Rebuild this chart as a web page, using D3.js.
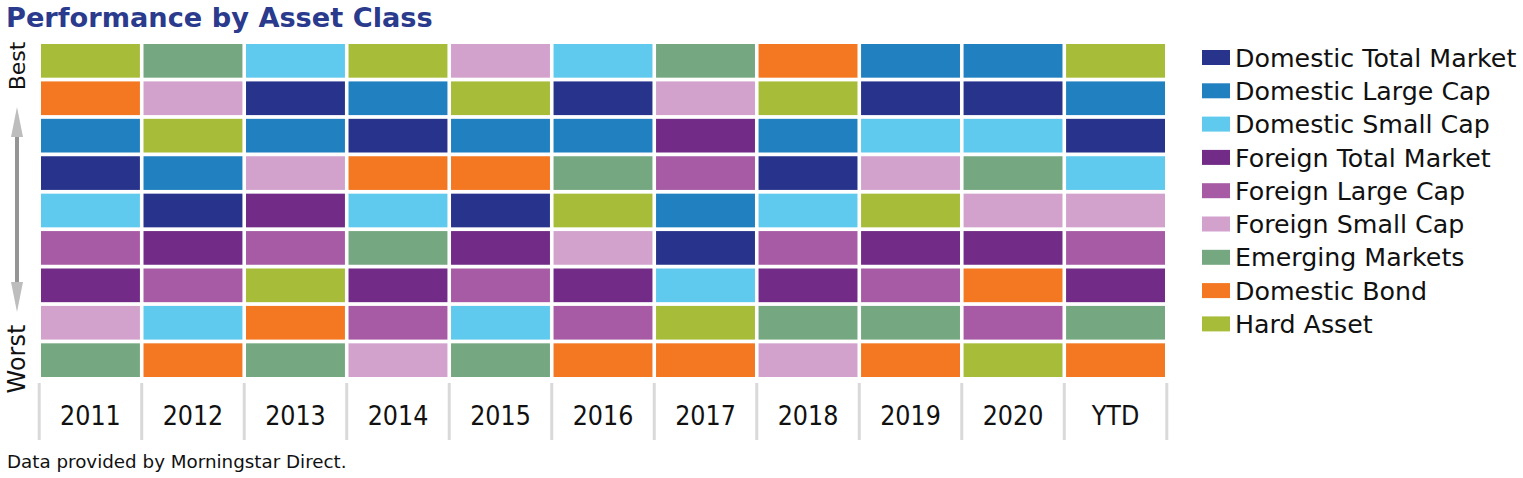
<!DOCTYPE html>
<html>
<head>
<meta charset="utf-8">
<script src="https://cdn.jsdelivr.net/npm/d3@7"></script>
<style>
  html, body { margin: 0; padding: 0; background: #fff; }
  svg { display: block; font-family: "DejaVu Sans", Verdana, sans-serif; }
</style>
</head>
<body>
<svg id="chart" width="1523" height="478"></svg>
<script>
// ---- Data ----
const years = ["2011", "2012", "2013", "2014", "2015", "2016", "2017", "2018", "2019", "2020", "YTD"];
const assetClasses = [
  "Domestic Total Market", "Domestic Large Cap", "Domestic Small Cap",
  "Foreign Total Market", "Foreign Large Cap", "Foreign Small Cap",
  "Emerging Markets", "Domestic Bond", "Hard Asset"
];
const assetColors = ["#28348b", "#2180c0", "#5fcaed", "#722b87", "#a75ba5", "#d2a2cd", "#75a880", "#f47721", "#a7bd3a"];
const rankLabels = ["Best", "Worst"];
// Each year's classes from best (rank 1) to worst (rank 9)
const rank2011 = ["Hard Asset", "Domestic Bond", "Domestic Large Cap", "Domestic Total Market", "Domestic Small Cap", "Foreign Large Cap", "Foreign Total Market", "Foreign Small Cap", "Emerging Markets"];
const rank2012 = ["Emerging Markets", "Foreign Small Cap", "Hard Asset", "Domestic Large Cap", "Domestic Total Market", "Foreign Total Market", "Foreign Large Cap", "Domestic Small Cap", "Domestic Bond"];
const rank2013 = ["Domestic Small Cap", "Domestic Total Market", "Domestic Large Cap", "Foreign Small Cap", "Foreign Total Market", "Foreign Large Cap", "Hard Asset", "Domestic Bond", "Emerging Markets"];
const rank2014 = ["Hard Asset", "Domestic Large Cap", "Domestic Total Market", "Domestic Bond", "Domestic Small Cap", "Emerging Markets", "Foreign Total Market", "Foreign Large Cap", "Foreign Small Cap"];
const rank2015 = ["Foreign Small Cap", "Hard Asset", "Domestic Large Cap", "Domestic Bond", "Domestic Total Market", "Foreign Total Market", "Foreign Large Cap", "Domestic Small Cap", "Emerging Markets"];
const rank2016 = ["Domestic Small Cap", "Domestic Total Market", "Domestic Large Cap", "Emerging Markets", "Hard Asset", "Foreign Small Cap", "Foreign Total Market", "Foreign Large Cap", "Domestic Bond"];
const rank2017 = ["Emerging Markets", "Foreign Small Cap", "Foreign Total Market", "Foreign Large Cap", "Domestic Large Cap", "Domestic Total Market", "Domestic Small Cap", "Hard Asset", "Domestic Bond"];
const rank2018 = ["Domestic Bond", "Hard Asset", "Domestic Large Cap", "Domestic Total Market", "Domestic Small Cap", "Foreign Large Cap", "Foreign Total Market", "Emerging Markets", "Foreign Small Cap"];
const rank2019 = ["Domestic Large Cap", "Domestic Total Market", "Domestic Small Cap", "Foreign Small Cap", "Hard Asset", "Foreign Total Market", "Foreign Large Cap", "Emerging Markets", "Domestic Bond"];
const rank2020 = ["Domestic Large Cap", "Domestic Total Market", "Domestic Small Cap", "Emerging Markets", "Foreign Small Cap", "Foreign Total Market", "Domestic Bond", "Foreign Large Cap", "Hard Asset"];
const rankYTD  = ["Hard Asset", "Domestic Large Cap", "Domestic Total Market", "Domestic Small Cap", "Foreign Small Cap", "Foreign Large Cap", "Foreign Total Market", "Emerging Markets", "Domestic Bond"];
const rankings = [rank2011, rank2012, rank2013, rank2014, rank2015, rank2016, rank2017, rank2018, rank2019, rank2020, rankYTD];

// ---- Build ----
const svg = d3.select("#chart");
const ranks = d3.range(1, assetClasses.length + 1);

const x = d3.scaleBand().domain(years).range([41, 1165]).paddingInner(0.035).paddingOuter(0);
const y = d3.scaleBand().domain(ranks).range([44, 377]).paddingInner(0.1).paddingOuter(0);
const color = d3.scaleOrdinal().domain(assetClasses).range(assetColors);

// Title
svg.append("text")
  .attr("x", 6).attr("y", 27)
  .attr("font-size", 27.2).attr("font-weight", "bold")
  .attr("fill", "#2a3a8c")
  .text("Performance by Asset Class");

// Cells
const cells = [];
years.forEach((yr, i) => rankings[i].forEach((a, r) => cells.push({ year: yr, rank: r + 1, asset: a })));
svg.append("g").selectAll("rect").data(cells).join("rect")
  .attr("x", d => x(d.year))
  .attr("y", d => y(d.rank))
  .attr("width", x.bandwidth())
  .attr("height", y.bandwidth())
  .attr("fill", d => color(d.asset));

// X axis: separators and labels
const gap = x.step() - x.bandwidth();
const sepX = years.map(yr => x(yr) - gap / 2).concat([x(years[years.length - 1]) + x.bandwidth() + gap / 2]);
const axisG = svg.append("g");
axisG.selectAll("line").data(sepX).join("line")
  .attr("x1", d => d).attr("x2", d => d)
  .attr("y1", 383).attr("y2", 440)
  .attr("stroke", "#d9d9d9").attr("stroke-width", 3);
axisG.selectAll("text").data(years).join("text")
  .attr("x", d => x(d) + x.bandwidth() / 2)
  .attr("y", 425)
  .attr("text-anchor", "middle")
  .attr("font-family", "'DejaVu Sans Condensed', 'DejaVu Sans', sans-serif")
  .attr("font-stretch", "condensed")
  .attr("font-size", 26.5)
  .attr("fill", "#111")
  .text(d => d);

// Y axis labels (Best / Worst) and arrow
svg.append("text")
  .attr("transform", `translate(25, 66) rotate(-90)`)
  .attr("text-anchor", "middle")
  .attr("font-size", 22).attr("fill", "#111")
  .text(rankLabels[0]);
svg.append("text")
  .attr("transform", `translate(25, 359) rotate(-90)`)
  .attr("text-anchor", "middle")
  .attr("font-size", 24).attr("fill", "#111")
  .text(rankLabels[1]);

const ax = 17, aTop = 107, aBot = 312, headH = 30, headW = 6;
svg.append("line")
  .attr("x1", ax).attr("x2", ax)
  .attr("y1", aTop + headH - 2).attr("y2", aBot - headH + 2)
  .attr("stroke", "#959595").attr("stroke-width", 4);
svg.append("path")
  .attr("d", `M${ax},${aTop} L${ax + headW},${aTop + headH} L${ax - headW},${aTop + headH} Z`)
  .attr("fill", "#bdbdbd");
svg.append("path")
  .attr("d", `M${ax},${aBot} L${ax + headW},${aBot - headH} L${ax - headW},${aBot - headH} Z`)
  .attr("fill", "#bdbdbd");

// Legend
const lg = svg.append("g").attr("transform", "translate(1202, 50)");
const li = lg.selectAll("g").data(assetClasses).join("g")
  .attr("transform", (d, i) => `translate(0, ${i * 33.3})`);
li.append("rect").attr("width", 28).attr("height", 15).attr("fill", d => color(d));
li.append("text")
  .attr("x", 33).attr("y", 7.5).attr("dy", "0.36em")
  .attr("font-size", 25.3).attr("fill", "#111")
  .text(d => d);

// Footer
svg.append("text")
  .attr("x", 7).attr("y", 468)
  .attr("font-size", 18.3).attr("fill", "#111")
  .text("Data provided by Morningstar Direct.");
</script>
</body>
</html>
